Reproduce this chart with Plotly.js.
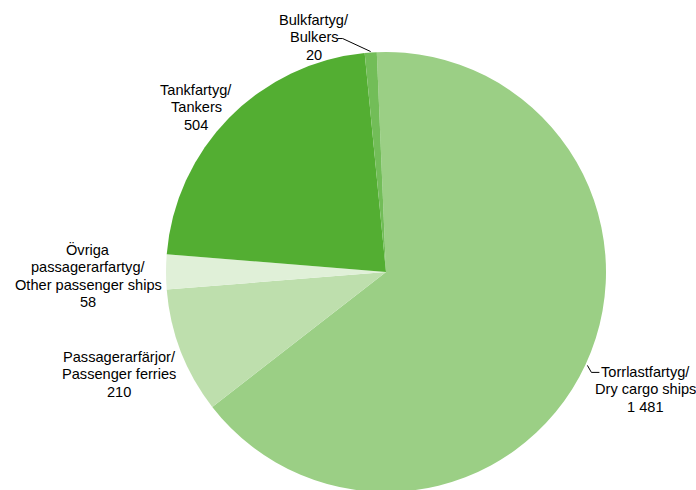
<!DOCTYPE html>
<html><head><meta charset="utf-8">
<script src="https://cdn.plot.ly/plotly-3.0.1.min.js"></script>
<style>html,body{margin:0;padding:0;overflow:hidden;background:#fff;width:696px;height:490px}</style>
</head><body>
<div id="chart" style="width:696px;height:544px"></div>
<script>
const labelsSv = [["Torrlastfartyg/"], ["Passagerarfärjor/"], ["Övriga", "passagerarfartyg/"], ["Tankfartyg/"], ["Bulkfartyg/"]];
const labelsEn = ["Dry cargo ships", "Passenger ferries", "Other passenger ships", "Tankers", "Bulkers"];
const values = [1481, 210, 58, 504, 20];
const valueText = ["1 481", "210", "58", "504", "20"];
const colors = ["#9BCF85", "#BEDFAD", "#E0F0D8", "#53AE32", "#72BD58"];

const W = 696, H = 544;
const cx = 386, cy = 272, R = 220;
const rotation = -2.4;
const px = x => x / W, py = y => 1 - y / H;

const total = values.reduce((a, b) => a + b, 0);
const mids = [];
let acc = 0;
values.forEach(v => { const a = v / total * 360; mids.push(rotation + acc + a / 2); acc += a; });
const edge = (i, r) => {
  const t = mids[i] * Math.PI / 180;
  return [cx + r * Math.sin(t), cy - r * Math.cos(t)];
};

// label placements (layout): center x, first line y
const labelPos = [[645, 372], [119, 357], [88, 250], [196, 90], [314, 20]];
const lineGap = 17.3;

const annotations = [];
labelsSv.forEach((sv, i) => {
  const lines = sv.concat([labelsEn[i], valueText[i]]);
  lines.forEach((t, k) => annotations.push({
    text: t, x: px(labelPos[i][0]), y: py(labelPos[i][1] + k * lineGap),
    xref: "paper", yref: "paper", showarrow: false,
    xanchor: "center", yanchor: "middle",
    font: {family: "Liberation Sans, Arial, sans-serif", size: 14.6, color: "#000"}
  }));
});

const t0 = edge(0, R + 2), t4 = edge(4, R + 1);
const shapes = [
  {type: "path", xref: "paper", yref: "paper",
   path: `M ${px(t0[0])} ${py(t0[1])} L ${px(t0[0] + 4)} ${py(t0[1] + 7)} L ${px(t0[0] + 12)} ${py(t0[1] + 7)}`,
   line: {color: "#000", width: 1}},
  {type: "path", xref: "paper", yref: "paper",
   path: `M ${px(t4[0])} ${py(t4[1])} L ${px(t4[0] - 28)} ${py(t4[1] - 13)} L ${px(t4[0] - 33)} ${py(t4[1] - 13)}`,
   line: {color: "#000", width: 1}}
];

const trace = {
  type: "pie", values: values, labels: labelsEn, sort: false, direction: "clockwise",
  rotation: rotation, textinfo: "none", hoverinfo: "none",
  marker: {colors: colors, line: {width: 0}},
  domain: {x: [px(cx - R), px(cx + R)], y: [py(cy + R), py(cy - R)]},
  showlegend: false
};

Plotly.newPlot("chart", [trace], {
  width: W, height: H, margin: {l: 0, r: 0, t: 0, b: 0},
  paper_bgcolor: "#fff", showlegend: false, annotations: annotations, shapes: shapes
}, {staticPlot: true});
</script>
</body></html>
